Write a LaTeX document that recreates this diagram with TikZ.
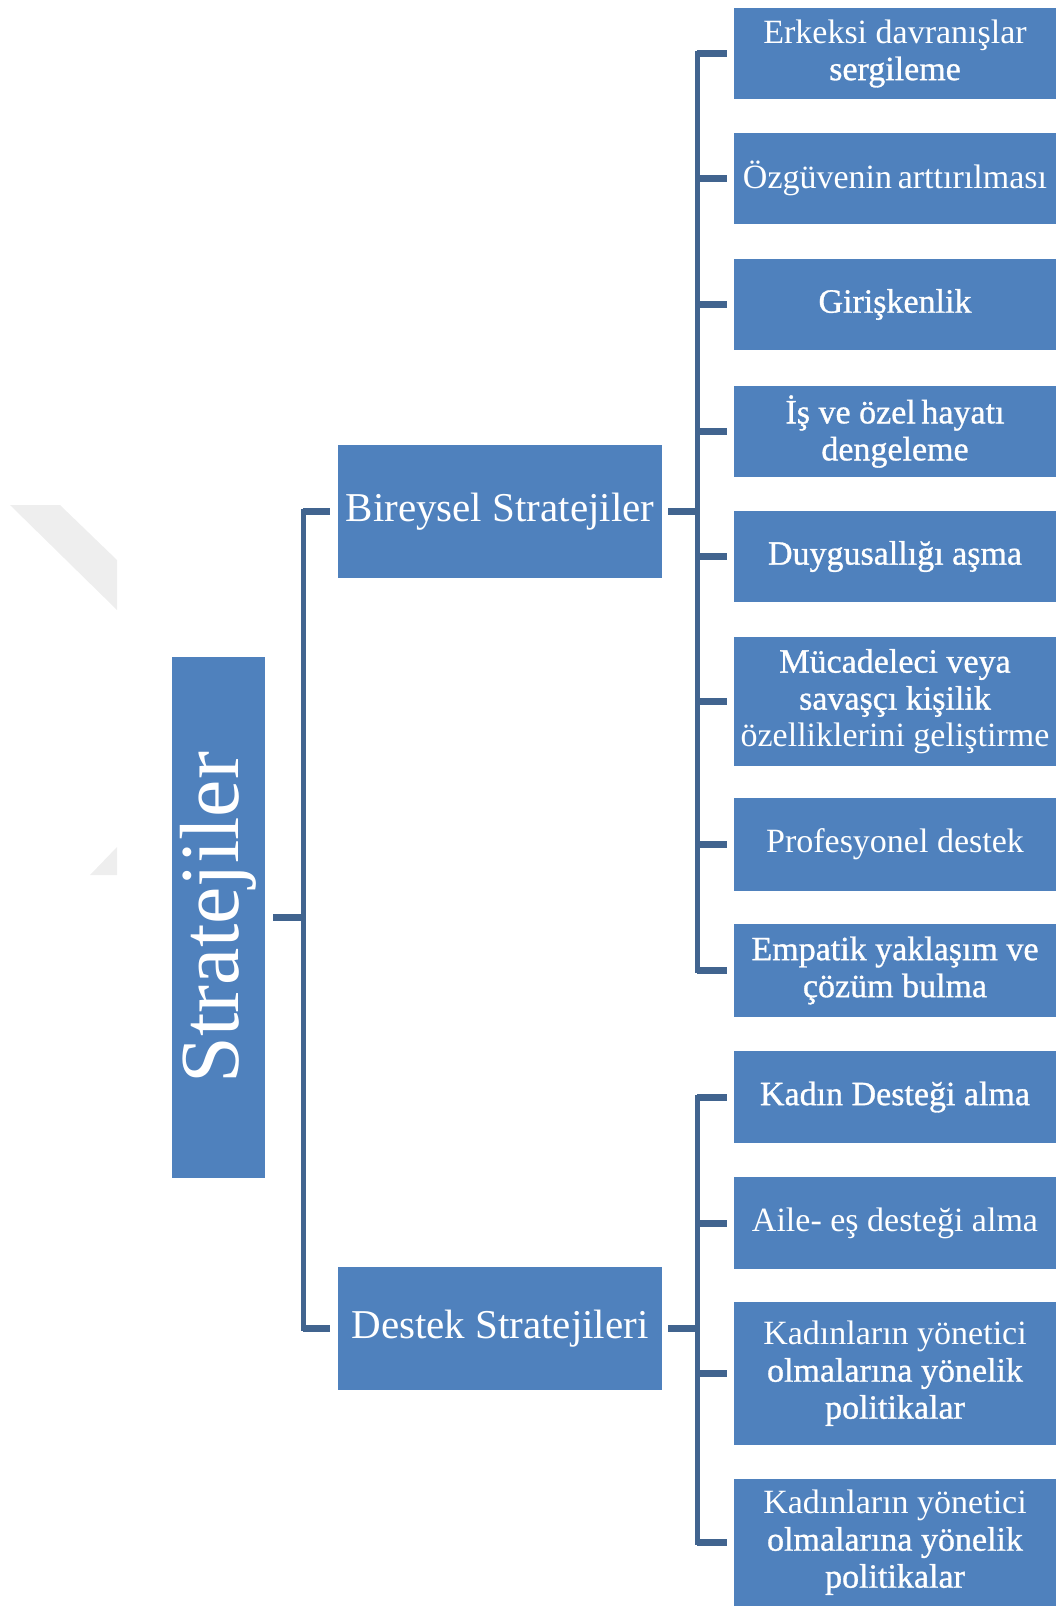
\documentclass[tikz,border=0pt]{standalone}
\usepackage{fontspec}
\setmainfont{Liberation Serif}
\newfontfamily\heavyfont[FakeBold=0.9]{Liberation Serif}
\definecolor{boxblue}{HTML}{4F81BD}
\definecolor{linkblue}{HTML}{41648F}
\definecolor{markgray}{HTML}{EEEEEE}

\begin{document}
\begin{tikzpicture}[x=0.75pt, y=-0.75pt,
  box/.style={rectangle, fill=boxblue, text=white, inner sep=0pt, align=center},
  dims/.style 2 args={minimum width=#1*0.75pt, minimum height=#2*0.75pt},
  leaf/.style={box, dims={322}{#1}, font=\fontsize{25.5}{27.75}\selectfont},
  midbox/.style={box, dims={324}{#1}, font=\fontsize{30.75}{34}\selectfont},
  trunk/.style={draw=linkblue, line width=3.75pt, line cap=rect},
  stub/.style={draw=linkblue, line width=5.25pt},
  wm/.style={fill=markgray}
]
\useasboundingbox (0,0) rectangle (1056,1606);

% faint background mark on the left edge
\fill[wm] (10,505) -- (60,505) -- (117,560) -- (117,610) -- cycle;
\fill[wm] (117,847) -- (117,875) -- (90,875) -- cycle;

% root
\node[box, rotate=90, dims={521}{93}, font=\fontsize{63}{70}\selectfont]
  (main) at (218.5,917.5) {Stratejiler};

% second level
\node[midbox=133] (bir) at (500,511.5) {Bireysel Stratejiler};
\node[midbox=123] (des) at (500,1328.5) {Destek Stratejileri};

% leaves: individual strategies
\node[leaf=91]  (c1) at (895,53.5)  {Erkeksi davranışlar\\{\heavyfont sergileme}};
\node[leaf=91]  (c2) at (895,178.5) {Özgüvenin\,arttırılması};
\node[leaf=91]  (c3) at (895,304.5) {\heavyfont Girişkenlik};
\node[leaf=91]  (c4) at (895,431.5) {\heavyfont İş ve özel\,hayatı\\\heavyfont dengeleme};
\node[leaf=91]  (c5) at (895,556.5) {\heavyfont Duygusallığı aşma};
\node[leaf=129] (c6) at (895,701.5) {\heavyfont Mücadeleci veya\\\heavyfont savaşçı kişilik\\özelliklerini geliştirme};
\node[leaf=93]  (c7) at (895,844.5) {Profesyonel destek};
\node[leaf=93]  (c8) at (895,970.5) {\heavyfont Empatik yaklaşım ve\\\heavyfont çözüm bulma};

% leaves: support strategies
\node[leaf=92]  (c9)  at (895,1097)   {\heavyfont Kadın Desteği alma};
\node[leaf=92]  (c10) at (895,1223)   {Aile- eş desteği alma};
\node[leaf=143] (c11) at (895,1373.5) {Kadınların yönetici\\\heavyfont olmalarına yönelik\\\heavyfont politikalar};
\node[leaf=127] (c12) at (895,1542.5) {Kadınların yönetici\\\heavyfont olmalarına yönelik\\\heavyfont politikalar};

% trunk positions
\coordinate (jA) at (303,0);
\coordinate (jB) at (697,0);

% root to second level
\draw[stub, shorten <=6pt] (main.south) -- (main.south -| jA);
\draw[trunk] (bir.west -| jA) -- (des.west -| jA);
\draw[stub, shorten >=6pt] (bir.west -| jA) -- (bir.west);
\draw[stub, shorten >=6pt] (des.west -| jA) -- (des.west);

% second level to leaves
\draw[stub, shorten <=4.5pt] (bir.east) -- (bir.east -| jB);
\draw[stub, shorten <=4.5pt] (des.east) -- (des.east -| jB);
\draw[trunk] (c1.west -| jB) -- (c8.west -| jB);
\draw[trunk] (c9.west -| jB) -- (c12.west -| jB);
\foreach \c in {c1,c2,c3,c4,c5,c6,c7,c8,c9,c10,c11,c12}
  \draw[stub, shorten >=5.25pt] (\c.west -| jB) -- (\c.west);
\end{tikzpicture}
\end{document}
